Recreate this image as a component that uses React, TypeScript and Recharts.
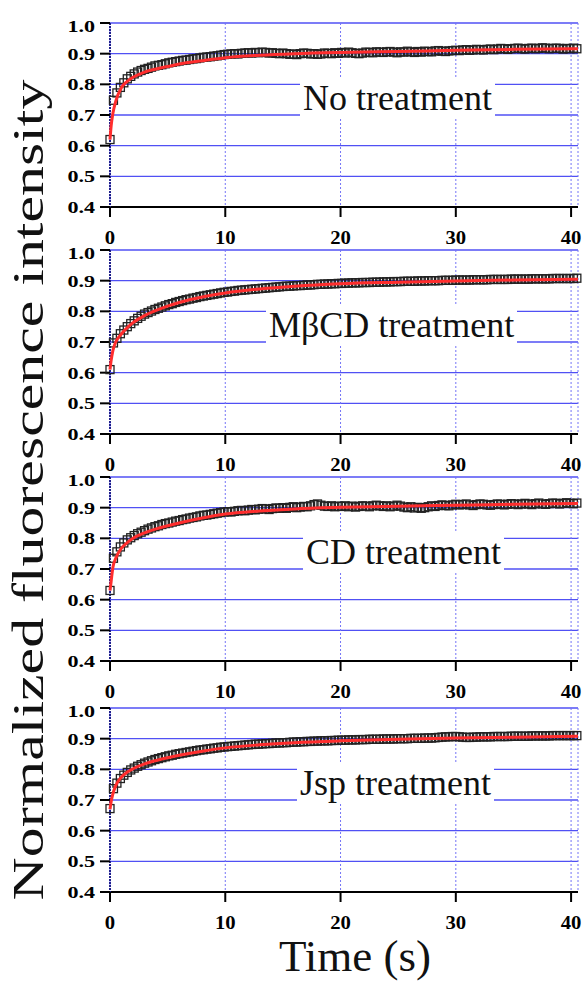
import { ComposedChart, Line, XAxis, YAxis, CartesianGrid } from 'recharts';

// frames were taken every 0.3 s, 0 .. 40.5 s
const FRAME_STEP = 0.3;
const frameTimes = Array.from({ length: 136 }, (_, i) => Math.round(i * FRAME_STEP * 10) / 10);

const fitTimes = [0, 0.1, 0.25, 0.5, 1, 1.5, 2, 3, 4, 5, 6, 8, 10, 13, 16, 20, 25, 30, 35, 40.6];

const xTicks = [0, 10, 20, 30, 40];
const yTicks = [0.4, 0.5, 0.6, 0.7, 0.8, 0.9, 1.0];

const noTreatment = [
  0.62, 0.748, 0.772, 0.79, 0.805, 0.818, 0.826, 0.834, 0.84, 0.845,
  0.849, 0.852, 0.856, 0.86, 0.862, 0.864, 0.867, 0.87, 0.872, 0.874,
  0.876, 0.878, 0.879, 0.881, 0.883, 0.884, 0.886, 0.888, 0.889, 0.89,
  0.892, 0.893, 0.895, 0.897, 0.898, 0.899, 0.9, 0.899, 0.901, 0.902,
  0.903, 0.902, 0.904, 0.903, 0.905, 0.904, 0.902, 0.903, 0.901, 0.9,
  0.902, 0.9, 0.898, 0.899, 0.897, 0.9, 0.902, 0.901, 0.899, 0.9,
  0.898, 0.899, 0.902, 0.901, 0.9, 0.903, 0.901, 0.904, 0.902, 0.905,
  0.903, 0.901, 0.9, 0.902, 0.905, 0.904, 0.903, 0.906, 0.905, 0.904,
  0.906, 0.907, 0.905, 0.903, 0.906, 0.905, 0.908, 0.906, 0.904, 0.907,
  0.905, 0.908, 0.907, 0.906, 0.909, 0.91, 0.908, 0.907, 0.909, 0.91,
  0.911, 0.91, 0.912, 0.913, 0.911, 0.912, 0.914, 0.913, 0.912, 0.914,
  0.915, 0.913, 0.915, 0.917, 0.916, 0.914, 0.916, 0.917, 0.918, 0.916,
  0.915, 0.917, 0.918, 0.916, 0.917, 0.919, 0.918, 0.916, 0.917, 0.918,
  0.917, 0.915, 0.917, 0.916, 0.918, 0.916,
];
const noTreatmentFit = [0.62, 0.665, 0.705, 0.745, 0.79, 0.81, 0.823, 0.84, 0.85, 0.858, 0.866, 0.877, 0.887, 0.895, 0.9, 0.904, 0.907, 0.911, 0.914, 0.916];

const mbcd = [
  0.61, 0.697, 0.712, 0.727, 0.739, 0.75, 0.76, 0.769, 0.777, 0.784,
  0.791, 0.796, 0.801, 0.806, 0.81, 0.814, 0.818, 0.822, 0.825, 0.829,
  0.832, 0.835, 0.838, 0.84, 0.843, 0.845, 0.848, 0.85, 0.852, 0.854,
  0.856, 0.858, 0.86, 0.862, 0.863, 0.865, 0.866, 0.868, 0.869, 0.87,
  0.871, 0.872, 0.873, 0.874, 0.875, 0.876, 0.877, 0.878, 0.879, 0.88,
  0.881, 0.882, 0.882, 0.883, 0.884, 0.884, 0.885, 0.886, 0.886, 0.887,
  0.888, 0.888, 0.889, 0.889, 0.89, 0.89, 0.891, 0.891, 0.892, 0.892,
  0.893, 0.893, 0.893, 0.894, 0.894, 0.894, 0.895, 0.895, 0.895, 0.896,
  0.896, 0.896, 0.897, 0.897, 0.897, 0.898, 0.898, 0.898, 0.898, 0.899,
  0.899, 0.899, 0.9, 0.9, 0.9, 0.9, 0.901, 0.901, 0.901, 0.901,
  0.902, 0.902, 0.902, 0.902, 0.902, 0.903, 0.903, 0.903, 0.903, 0.903,
  0.904, 0.904, 0.904, 0.904, 0.904, 0.904, 0.905, 0.905, 0.905, 0.905,
  0.905, 0.905, 0.906, 0.906, 0.906, 0.906, 0.906, 0.906, 0.907, 0.907,
  0.907, 0.907, 0.907, 0.907, 0.907, 0.908,
];
const mbcdFit = [0.61, 0.64, 0.672, 0.7, 0.727, 0.747, 0.763, 0.786, 0.803, 0.817, 0.829, 0.847, 0.86, 0.873, 0.882, 0.89, 0.895, 0.899, 0.902, 0.905];

const cdTreatment = [
  0.63, 0.735, 0.756, 0.772, 0.785, 0.795, 0.802, 0.809, 0.815, 0.82,
  0.825, 0.83, 0.834, 0.838, 0.841, 0.845, 0.848, 0.85, 0.853, 0.856,
  0.858, 0.861, 0.863, 0.866, 0.868, 0.87, 0.873, 0.875, 0.876, 0.878,
  0.88, 0.882, 0.884, 0.886, 0.887, 0.886, 0.888, 0.89, 0.891, 0.89,
  0.892, 0.894, 0.893, 0.895, 0.897, 0.896, 0.894, 0.897, 0.899, 0.898,
  0.9, 0.898, 0.901, 0.903, 0.9, 0.902, 0.904, 0.903, 0.906, 0.91,
  0.912, 0.908, 0.905, 0.904, 0.906, 0.903, 0.905, 0.904, 0.906, 0.903,
  0.905, 0.902, 0.904, 0.906, 0.905, 0.903, 0.906, 0.908, 0.906, 0.904,
  0.906, 0.903, 0.905, 0.908, 0.905, 0.902, 0.9, 0.903, 0.899, 0.901,
  0.898, 0.9, 0.903, 0.906, 0.904, 0.907, 0.909, 0.907, 0.906, 0.909,
  0.911, 0.909, 0.91, 0.912, 0.909, 0.907, 0.91, 0.912, 0.911, 0.909,
  0.908, 0.91, 0.912, 0.911, 0.909, 0.911, 0.913, 0.912, 0.91, 0.912,
  0.914, 0.912, 0.91, 0.913, 0.915, 0.912, 0.911, 0.913, 0.915, 0.914,
  0.912, 0.914, 0.916, 0.914, 0.913, 0.915,
];
const cdTreatmentFit = [0.63, 0.66, 0.705, 0.735, 0.768, 0.786, 0.8, 0.818, 0.831, 0.841, 0.85, 0.866, 0.879, 0.889, 0.896, 0.901, 0.905, 0.908, 0.911, 0.914];

const jspTreatment = [
  0.672, 0.737, 0.755, 0.77, 0.781, 0.79, 0.798, 0.804, 0.81, 0.815,
  0.82, 0.824, 0.828, 0.832, 0.835, 0.838, 0.841, 0.844, 0.846, 0.849,
  0.851, 0.853, 0.855, 0.857, 0.859, 0.861, 0.863, 0.864, 0.866, 0.867,
  0.869, 0.87, 0.872, 0.873, 0.874, 0.875, 0.876, 0.877, 0.878, 0.879,
  0.88, 0.881, 0.882, 0.882, 0.883, 0.884, 0.884, 0.885, 0.886, 0.886,
  0.887, 0.887, 0.888, 0.889, 0.889, 0.89, 0.89, 0.891, 0.891, 0.892,
  0.892, 0.893, 0.893, 0.893, 0.894, 0.894, 0.895, 0.895, 0.895, 0.896,
  0.896, 0.896, 0.897, 0.897, 0.897, 0.898, 0.898, 0.898, 0.898, 0.899,
  0.899, 0.899, 0.899, 0.9, 0.9, 0.9, 0.9, 0.901, 0.901, 0.901,
  0.901, 0.902, 0.902, 0.902, 0.903, 0.904, 0.905, 0.906, 0.906, 0.907,
  0.907, 0.906, 0.905, 0.904, 0.904, 0.905, 0.905, 0.906, 0.906, 0.906,
  0.906, 0.907, 0.907, 0.907, 0.907, 0.907, 0.908, 0.908, 0.908, 0.908,
  0.908, 0.908, 0.909, 0.909, 0.909, 0.909, 0.909, 0.909, 0.91, 0.91,
  0.91, 0.91, 0.91, 0.91, 0.91, 0.91,
];
const jspTreatmentFit = [0.67, 0.695, 0.72, 0.747, 0.775, 0.791, 0.802, 0.818, 0.829, 0.838, 0.846, 0.859, 0.87, 0.88, 0.887, 0.893, 0.898, 0.902, 0.905, 0.908];

const panels = [
  { name: 'No treatment', top: 23, points: noTreatment, fit: noTreatmentFit, labelLeft: 300 },
  { name: 'MβCD treatment', top: 250, points: mbcd, fit: mbcdFit, labelLeft: 266 },
  { name: 'CD treatment', top: 477, points: cdTreatment, fit: cdTreatmentFit, labelLeft: 303 },
  { name: 'Jsp treatment', top: 708, points: jspTreatment, fit: jspTreatmentFit, labelLeft: 297 },
];

const SERIF = '"Liberation Serif", "Times New Roman", serif';
const PLOT_H = 184;
const M_TOP = 6;
const Y_AXIS_W = 110;
const RIGHT_M = 8;
const X_AXIS_H = 44;
const CHART_H = M_TOP + PLOT_H + X_AXIS_H;
const X_DOMAIN: [number, number] = [0, 40.6];
const Y_DOMAIN: [number, number] = [0.4, 1];

// open square marker used as the "dot" of the measured series
const Square = (props: any) => {
  const { cx, cy } = props;
  if (cx == null || cy == null) return null;
  return <rect key={props.index} x={cx - 4} y={cy - 4} width={8} height={8} fill="none" stroke="#222" strokeWidth={1.3} />;
};

const YTick = (props: any) => {
  const { x, y, payload } = props;
  return (
    <text transform={`translate(${x},${y}) scale(1.3,1)`} textAnchor="end" dy="0.36em"
      fontFamily={SERIF} fontWeight="bold" fontSize={17} fill="#000">
      {Number(payload.value).toFixed(1)}
    </text>
  );
};

const XTick = (props: any) => {
  const { x, y, payload } = props;
  return (
    <text transform={`translate(${x},${y + 25}) scale(1.15,1)`} textAnchor="middle"
      fontFamily={SERIF} fontWeight="bold" fontSize={18} fill="#000">
      {payload.value}
    </text>
  );
};

function Panel({ p }: { p: (typeof panels)[number] }) {
  const pts = frameTimes.map((t, i) => ({ t, v: p.points[i] }));
  const fit = fitTimes.map((t, i) => ({ t, v: p.fit[i] }));
  const box = { position: 'absolute' as const, left: 0, top: 0 };
  return (
    <div style={{ position: 'absolute', left: 0, top: p.top - M_TOP, width: 586, height: CHART_H }}>
      <div style={box}>
        <ComposedChart width={586} height={CHART_H} margin={{ top: M_TOP, right: RIGHT_M, bottom: 0, left: 0 }}>
          <CartesianGrid vertical={false} stroke="#5050f4" strokeWidth={1.4} />
          <CartesianGrid horizontal={false} stroke="#7474f6" strokeWidth={1} strokeDasharray="2 2" />
          <XAxis type="number" dataKey="t" domain={X_DOMAIN} ticks={xTicks} height={X_AXIS_H}
            tickSize={10} tickMargin={2} tick={<XTick />}
            axisLine={{ stroke: '#000', strokeWidth: 2 }} tickLine={{ stroke: '#000', strokeWidth: 2 }} />
          <XAxis xAxisId="top" orientation="top" type="number" domain={X_DOMAIN} height={0}
            tick={false} tickLine={false} axisLine={{ stroke: '#000', strokeWidth: 2 }} />
          <YAxis type="number" domain={Y_DOMAIN} ticks={yTicks} width={Y_AXIS_W}
            tickSize={10} tickMargin={5} tick={<YTick />}
            axisLine={{ stroke: '#1e1e8a', strokeWidth: 2, strokeDasharray: '2 1' }}
            tickLine={{ stroke: '#000', strokeWidth: 2 }} />
          <YAxis yAxisId="right" orientation="right" type="number" domain={Y_DOMAIN} width={0}
            tick={false} tickLine={false} axisLine={{ stroke: '#000', strokeWidth: 2 }} />
          <Line data={pts} dataKey="v" stroke="none" dot={Square} activeDot={false} isAnimationActive={false} />
        </ComposedChart>
      </div>
      {/* fitted curve drawn in its own layer so it sits above the markers */}
      <div style={box}>
        <ComposedChart width={586} height={CHART_H}
          margin={{ top: M_TOP, right: RIGHT_M, bottom: X_AXIS_H, left: Y_AXIS_W }}>
          <XAxis type="number" dataKey="t" domain={X_DOMAIN} hide />
          <YAxis type="number" domain={Y_DOMAIN} hide />
          <Line data={fit} dataKey="v" type="monotone" stroke="#ff2d2d" strokeWidth={3}
            dot={false} activeDot={false} isAnimationActive={false} />
        </ComposedChart>
      </div>
      <div style={{
        position: 'absolute', left: p.labelLeft, top: M_TOP + 54, height: 42, lineHeight: '42px',
        padding: '0 3px', background: '#fff', fontFamily: SERIF, fontSize: 36, color: '#111', whiteSpace: 'nowrap',
      }}>
        {p.name}
      </div>
    </div>
  );
}

export default function App() {
  return (
    <div style={{ position: 'absolute', left: 0, top: 0, width: 586, height: 982, background: '#fff', overflow: 'hidden' }}>
      {panels.map((p) => <Panel key={p.name} p={p} />)}
      <svg width={586} height={982} style={{ position: 'absolute', left: 0, top: 0, pointerEvents: 'none' }}>
        <text transform="translate(43,490) rotate(-90) scale(1.33,1)" textAnchor="middle"
          fontFamily={SERIF} fontSize={45} fill="#111">
          Normalized fluorescence intensity
        </text>
        <text x={355} y={971} textAnchor="middle" fontFamily={SERIF} fontSize={45} fill="#111">
          Time (s)
        </text>
      </svg>
    </div>
  );
}
